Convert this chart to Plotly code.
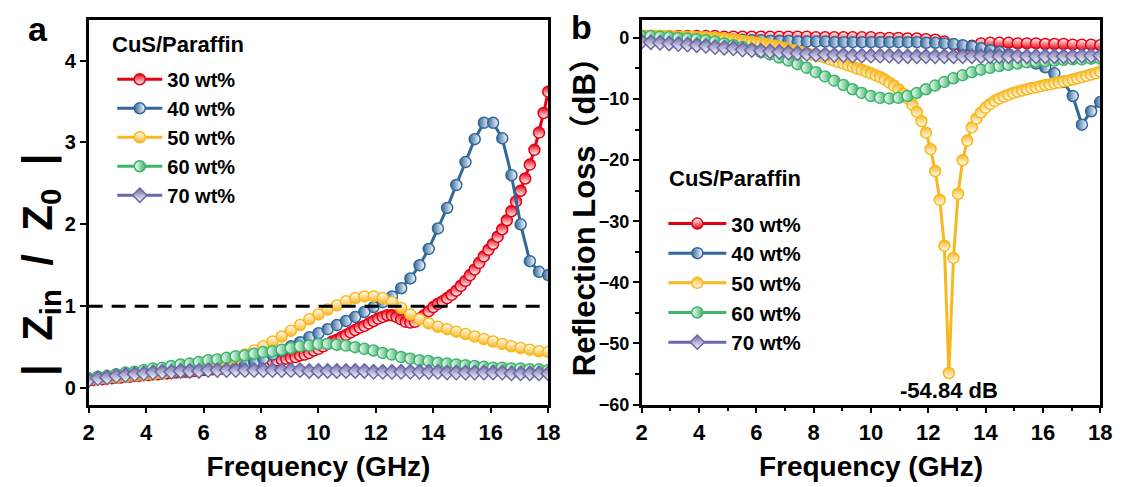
import plotly.graph_objects as go

# ---------------- data ----------------
freq_sparse = [2.00, 2.32, 2.64, 2.96, 3.28, 3.60, 3.92, 4.24, 4.56, 4.88,
               5.20, 5.52, 5.84, 6.16, 6.48, 6.80, 7.12, 7.44, 7.76, 8.08,
               8.40, 8.72, 9.04, 9.36, 9.68, 10.00, 10.32, 10.64, 10.96, 11.28,
               11.60, 11.92, 12.24, 12.56, 12.88, 13.20, 13.52, 13.84, 14.16, 14.48,
               14.80, 15.12, 15.44, 15.76, 16.08, 16.40, 16.72, 17.04, 17.36, 17.68,
               18.00]

freq_dense = [2.00, 2.16, 2.32, 2.48, 2.64, 2.80, 2.96, 3.12, 3.28, 3.44,
              3.60, 3.76, 3.92, 4.08, 4.24, 4.40, 4.56, 4.72, 4.88, 5.04,
              5.20, 5.36, 5.52, 5.68, 5.84, 6.00, 6.16, 6.32, 6.48, 6.64,
              6.80, 6.96, 7.12, 7.28, 7.44, 7.60, 7.76, 7.92, 8.08, 8.24,
              8.40, 8.56, 8.72, 8.88, 9.04, 9.20, 9.36, 9.52, 9.68, 9.84,
              10.00, 10.16, 10.32, 10.48, 10.64, 10.80, 10.96, 11.12, 11.28, 11.44,
              11.60, 11.76, 11.92, 12.08, 12.24, 12.40, 12.56, 12.72, 12.88, 13.04,
              13.20, 13.36, 13.52, 13.68, 13.84, 14.00, 14.16, 14.32, 14.48, 14.64,
              14.80, 14.96, 15.12, 15.28, 15.44, 15.60, 15.76, 15.92, 16.08, 16.24,
              16.40, 16.56, 16.72, 16.88, 17.04, 17.20, 17.36, 17.52, 17.68, 17.84,
              18.00]

labels = ["30 wt%", "40 wt%", "50 wt%", "60 wt%", "70 wt%"]
legend_title = "CuS/Paraffin"

# Panel a: |Zin/Z0|
z_30 = [0.10, 0.10, 0.11, 0.11, 0.12, 0.12, 0.13, 0.13, 0.14, 0.14,
        0.15, 0.15, 0.16, 0.16, 0.17, 0.17, 0.18, 0.18, 0.19, 0.19,
        0.20, 0.20, 0.20, 0.21, 0.21, 0.22, 0.22, 0.23, 0.23, 0.24,
        0.24, 0.25, 0.26, 0.26, 0.27, 0.28, 0.29, 0.30, 0.31, 0.32,
        0.33, 0.34, 0.35, 0.36, 0.37, 0.38, 0.40, 0.41, 0.43, 0.46,
        0.48, 0.51, 0.54, 0.57, 0.59, 0.62, 0.65, 0.68, 0.71, 0.74,
        0.76, 0.79, 0.82, 0.85, 0.87, 0.89, 0.89, 0.87, 0.84, 0.81,
        0.80, 0.81, 0.85, 0.89, 0.94, 0.99, 1.03, 1.06, 1.10, 1.14,
        1.19, 1.25, 1.31, 1.38, 1.45, 1.53, 1.61, 1.69, 1.76, 1.85,
        1.94, 2.05, 2.16, 2.28, 2.41, 2.56, 2.73, 2.91, 3.12, 3.36,
        3.62]

z_40 = [0.10, 0.11, 0.12, 0.13, 0.14, 0.15, 0.16, 0.17, 0.18, 0.19,
        0.20, 0.21, 0.22, 0.23, 0.24, 0.25, 0.27, 0.29, 0.32, 0.36,
        0.41, 0.46, 0.51, 0.56, 0.62, 0.67, 0.72, 0.77, 0.82, 0.87,
        0.93, 0.99, 1.05, 1.12, 1.22, 1.34, 1.50, 1.70, 1.95, 2.20,
        2.48, 2.76, 3.04, 3.24, 3.24, 3.05, 2.60, 2.00, 1.55, 1.42,
        1.38]

z_50 = [0.10, 0.11, 0.12, 0.13, 0.14, 0.15, 0.16, 0.17, 0.18, 0.20,
        0.21, 0.23, 0.25, 0.27, 0.30, 0.33, 0.37, 0.41, 0.46, 0.51,
        0.57, 0.63, 0.70, 0.77, 0.84, 0.90, 0.96, 1.01, 1.06, 1.10,
        1.12, 1.12, 1.10, 1.05, 0.98, 0.90, 0.84, 0.79, 0.75, 0.72,
        0.69, 0.66, 0.63, 0.60, 0.57, 0.54, 0.51, 0.49, 0.47, 0.45,
        0.44]

z_60 = [0.12, 0.14, 0.15, 0.17, 0.19, 0.20, 0.22, 0.24, 0.25, 0.27,
        0.29, 0.30, 0.32, 0.34, 0.35, 0.37, 0.39, 0.40, 0.42, 0.44,
        0.45, 0.47, 0.49, 0.51, 0.52, 0.54, 0.54, 0.53, 0.52, 0.50,
        0.48, 0.46, 0.43, 0.41, 0.38, 0.36, 0.34, 0.33, 0.31, 0.30,
        0.29, 0.28, 0.27, 0.26, 0.25, 0.25, 0.24, 0.24, 0.23, 0.23,
        0.22]

z_70 = [0.10, 0.12, 0.13, 0.15, 0.16, 0.17, 0.18, 0.19, 0.20, 0.20,
        0.21, 0.21, 0.21, 0.22, 0.22, 0.22, 0.22, 0.22, 0.22, 0.22,
        0.22, 0.22, 0.22, 0.22, 0.21, 0.21, 0.21, 0.21, 0.21, 0.21,
        0.21, 0.20, 0.20, 0.20, 0.20, 0.20, 0.20, 0.20, 0.20, 0.19,
        0.19, 0.19, 0.19, 0.19, 0.19, 0.19, 0.18, 0.18, 0.18, 0.18,
        0.18]

# Panel b: reflection loss (dB)
rl_30 = [0.3, 0.3, 0.3, 0.3, 0.3, 0.3, 0.3, 0.3, 0.3, 0.2,
         0.2, 0.2, 0.2, 0.2, 0.2, 0.2, 0.2, 0.2, 0.2, 0.1,
         0.1, 0.1, 0.1, 0.1, 0.1, 0.1, 0.0, 0.0, 0.0, -0.1,
         -0.1, -0.2, -0.3, -0.6, -1.1, -1.6, -1.3, -0.9, -0.8, -0.8,
         -0.8, -0.9, -0.9, -0.9, -1.0, -1.0, -1.0, -1.1, -1.1, -1.1,
         -1.2]

rl_40 = [0.2, 0.2, 0.1, 0.1, 0.0, 0.0, -0.1, -0.1, -0.2, -0.2,
         -0.3, -0.3, -0.4, -0.4, -0.5, -0.5, -0.5, -0.6, -0.6, -0.6,
         -0.6, -0.7, -0.7, -0.7, -0.7, -0.7, -0.7, -0.7, -0.7, -0.7,
         -0.7, -0.8, -0.8, -0.9, -1.0, -1.2, -1.4, -1.7, -2.0, -2.3,
         -2.7, -3.1, -3.6, -4.2, -4.8, -5.8, -7.2, -9.5, -14.2, -12.0,
         -10.5]

rl_50 = [0.3, 0.3, 0.3, 0.3, 0.3, 0.3, 0.3, 0.2, 0.2, 0.2,
         0.2, 0.2, 0.1, 0.1, 0.1, 0.0, 0.0, -0.1, -0.1, -0.2,
         -0.3, -0.4, -0.5, -0.6, -0.7, -0.8, -0.9, -1.0, -1.2, -1.3,
         -1.5, -1.6, -1.8, -2.0, -2.2, -2.4, -2.5, -2.7, -2.8, -3.0,
         -3.2, -3.5, -3.7, -4.0, -4.2, -4.5, -4.7, -5.0, -5.2, -5.5,
         -5.8, -6.1, -6.4, -6.8, -7.3, -7.8, -8.4, -9.1, -9.9, -10.9,
         -12.1, -13.6, -15.5, -18.2, -21.8, -26.5, -34.0, -54.84, -36.0, -25.5,
         -20.0, -16.8, -14.6, -13.2, -12.2, -11.4, -10.8, -10.3, -9.9, -9.6,
         -9.3, -9.0, -8.8, -8.6, -8.4, -8.2, -8.1, -7.9, -7.7, -7.6,
         -7.4, -7.3, -7.1, -7.0, -6.8, -6.6, -6.4, -6.2, -6.0, -5.8,
         -5.5]

rl_60 = [0.3, 0.3, 0.2, 0.1, 0.0, -0.1, -0.2, -0.4, -0.6, -0.9,
         -1.2, -1.5, -1.9, -2.3, -2.7, -3.2, -3.7, -4.3, -4.9, -5.6,
         -6.3, -7.0, -7.7, -8.4, -9.0, -9.5, -9.8, -9.9, -9.8, -9.5,
         -9.0, -8.4, -7.8, -7.2, -6.6, -6.1, -5.6, -5.2, -4.9, -4.6,
         -4.4, -4.2, -4.0, -3.9, -3.8, -3.7, -3.6, -3.5, -3.5, -3.4,
         -3.4]

rl_70 = [-0.6, -0.7, -0.8, -0.9, -1.0, -1.1, -1.2, -1.3, -1.5, -1.6,
         -1.7, -1.9, -2.0, -2.1, -2.2, -2.3, -2.4, -2.5, -2.6, -2.7,
         -2.7, -2.8, -2.8, -2.9, -2.9, -2.9, -2.9, -2.9, -3.0, -3.0,
         -3.0, -3.0, -3.0, -3.0, -3.0, -3.0, -3.0, -3.0, -3.0, -3.0,
         -3.0, -3.0, -3.0, -3.0, -3.0, -3.0, -3.0, -3.0, -2.9, -2.9,
         -2.9]

min_rl_label = "-54.84 dB"
min_rl_freq = 12.72
min_rl_value = -54.84

# ---------------- styling ----------------
W, H = 1127, 487
FONT = "Liberation Sans, Arial, Noto Sans CJK SC, sans-serif"
colors = ["#E60012", "#31679B", "#F7B81E", "#3DB56C", "#6A67A6"]
symbols = ["circle", "circle", "circle", "circle", "diamond"]
# half-filled look: vertical -> marker colour on top, gradient colour at bottom;
# horizontal -> gradient colour on left, marker colour on right
half_a = [("vertical", "top"), ("horizontal", "right"), ("vertical", "bottom"),
          ("horizontal", "left"), ("vertical", "top")]
half_b = [("vertical", "bottom"), ("horizontal", "right"), ("vertical", "top"),
          ("horizontal", "left"), ("vertical", "top")]


def px_x(p):
    return p / W


def px_y(p):
    return 1 - p / H


def half_marker(color, symbol, half):
    gtype, side = half
    if side in ("top", "right"):
        fill, grad = color, "white"
    else:
        fill, grad = "white", color
    return dict(symbol=symbol, size=11, color=fill,
                line=dict(color=color, width=1.5),
                gradient=dict(type=gtype, color=grad))


fig = go.Figure()

series_a = [(freq_dense, z_30), (freq_sparse, z_40), (freq_sparse, z_50),
            (freq_sparse, z_60), (freq_sparse, z_70)]
series_b = [(freq_sparse, rl_30), (freq_sparse, rl_40), (freq_dense, rl_50),
            (freq_sparse, rl_60), (freq_sparse, rl_70)]

for i, (fx, fy) in enumerate(series_a):
    assert len(fx) == len(fy)
    fig.add_trace(go.Scatter(
        x=fx, y=fy, mode="lines+markers", name=labels[i],
        xaxis="x", yaxis="y", legend="legend",
        line=dict(color=colors[i], width=3),
        marker=half_marker(colors[i], symbols[i], half_a[i]),
    ))

for i, (fx, fy) in enumerate(series_b):
    assert len(fx) == len(fy)
    fig.add_trace(go.Scatter(
        x=fx, y=fy, mode="lines+markers", name=labels[i],
        xaxis="x2", yaxis="y2", legend="legend2",
        line=dict(color=colors[i], width=3),
        marker=half_marker(colors[i], symbols[i], half_b[i]),
    ))

ydom = [px_y(413), px_y(20)]
axis_common = dict(showline=True, linewidth=2.5, linecolor="black", mirror=True,
                   ticks="outside", tickwidth=2, tickcolor="black", ticklen=6,
                   showgrid=False, zeroline=False,
                   tickfont=dict(family=FONT, size=22, color="black", weight="bold"))
title_font = dict(family=FONT, size=28, color="black", weight="bold")

fig.update_layout(
    width=W, height=H,
    margin=dict(l=0, r=0, t=0, b=0),
    paper_bgcolor="white", plot_bgcolor="white",
    font=dict(family=FONT, color="black"),
    xaxis=dict(domain=[px_x(84), px_x(551)], range=[2, 18], tickvals=[2, 4, 6, 8, 10, 12, 14, 16, 18],
               anchor="y",
               title=dict(text="Frequency (GHz)", standoff=13, font=title_font),
               **axis_common),
    yaxis=dict(domain=ydom, range=[-0.2, 4.5], tickvals=[0, 1, 2, 3, 4], anchor="x",
               **{**axis_common, "tickfont": dict(family=FONT, size=20, color="black", weight="bold")}),
    xaxis2=dict(domain=[px_x(646), px_x(1112)], range=[2, 18], tickvals=[2, 4, 6, 8, 10, 12, 14, 16, 18],
                anchor="y2",
                minor=dict(dtick=1, ticks="outside", ticklen=4, tickwidth=2, tickcolor="black"),
                title=dict(text="Frequency (GHz)", standoff=13, font=title_font),
                **axis_common),
    yaxis2=dict(domain=ydom, range=[-60, 3], tickvals=[0, -10, -20, -30, -40, -50, -60], anchor="x2",
                minor=dict(dtick=5, ticks="outside", ticklen=4, tickwidth=2, tickcolor="black"),
                **{**axis_common, "tickfont": dict(family=FONT, size=18, color="black", weight="bold")}),
    legend=dict(x=px_x(108), y=px_y(61), xanchor="left", yanchor="top",
                bgcolor="rgba(0,0,0,0)", itemwidth=45, tracegroupgap=0,
                font=dict(family=FONT, size=20, weight="bold", color="black")),
    legend2=dict(x=px_x(668), y=px_y(208), xanchor="left", yanchor="top",
                 bgcolor="rgba(0,0,0,0)", itemwidth=58, tracegroupgap=0,
                 font=dict(family=FONT, size=20.5, weight="bold", color="black")),
    showlegend=True,
)

# dashed reference line at |Zin/Z0| = 1
fig.add_shape(type="line", xref="x", yref="y", x0=2, x1=18, y0=1, y1=1,
              line=dict(color="black", width=3, dash="14px,9px"), layer="above")

# legend titles
fig.add_annotation(x=px_x(106), y=px_y(45), xref="paper", yref="paper", showarrow=False,
                   text=legend_title, xanchor="left", yanchor="middle",
                   font=dict(family=FONT, size=22, color="black", weight="bold"))
fig.add_annotation(x=px_x(672), y=px_y(182), xref="paper", yref="paper", showarrow=False,
                   text=legend_title, xanchor="left", yanchor="middle",
                   font=dict(family=FONT, size=22, color="black", weight="bold"))

# axis title of panel b (y)
fig.add_annotation(x=px_x(588), y=px_y(214), xref="paper", yref="paper", showarrow=False,
                   text="Reflection Loss（dB）", textangle=-90,
                   xanchor="center", yanchor="middle",
                   font=dict(family=FONT, size=31, color="black", weight="bold"))

# other annotations
fig.add_annotation(x=px_x(35), y=px_y(270), xref="paper", yref="paper", showarrow=False,
                   text="|\u00a0\u00a0Z<sub>in</sub>\u00a0\u00a0/\u00a0\u00a0Z<sub>0</sub>\u00a0\u00a0|",
                   textangle=-90, xanchor="center", yanchor="middle",
                   font=dict(family=FONT, size=42, color="black", weight="bold"))
fig.add_annotation(x=px_x(33), y=px_y(30), xref="paper", yref="paper", showarrow=False,
                   text="a", xanchor="center", yanchor="middle",
                   font=dict(family=FONT, size=34, color="black", weight="bold"))
fig.add_annotation(x=px_x(585), y=px_y(28), xref="paper", yref="paper", showarrow=False,
                   text="b", xanchor="center", yanchor="middle",
                   font=dict(family=FONT, size=34, color="black", weight="bold"))
fig.add_annotation(x=min_rl_freq, y=min_rl_value, xref="x2", yref="y2", showarrow=False,
                   text=min_rl_label, xanchor="center", yanchor="top", yshift=-3,
                   font=dict(family=FONT, size=22, color="black", weight="bold"))

fig.write_html("out.html")
